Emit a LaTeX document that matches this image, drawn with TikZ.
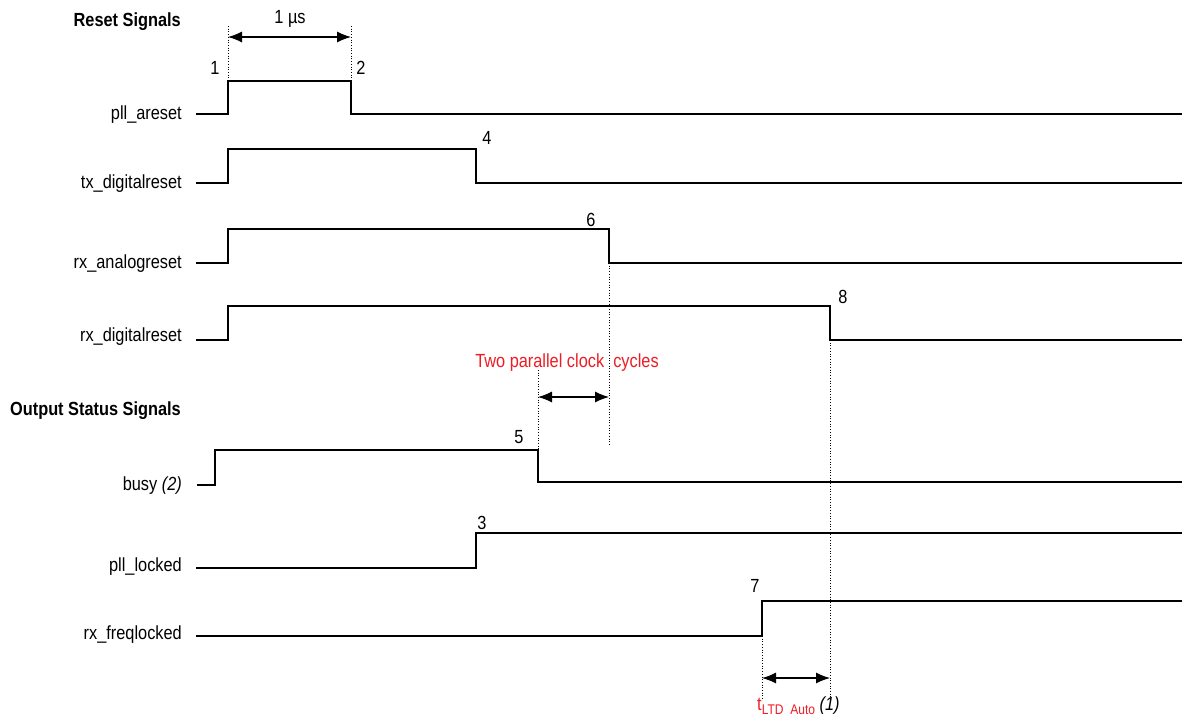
\documentclass[tikz,border=0pt]{standalone}
\usepackage{fontspec}
\setmainfont{Liberation Sans}[FakeStretch=0.86]
\usetikzlibrary{arrows.meta}
\definecolor{lblred}{RGB}{237,28,36}
\begin{document}
\begin{tikzpicture}[x=1pt,y=-1pt,
  wave/.style={line width=1.2pt, line join=miter},
  guide/.style={dotted, line width=0.7pt},
  dimarrow/.style={{Latex[length=14pt,width=11pt]}-{Latex[length=14pt,width=11pt]}, line width=1.1pt},
  lab/.style={anchor=east, font=\fontsize{19}{22}\selectfont, inner sep=0pt},
  num/.style={font=\fontsize{19}{22}\selectfont, inner sep=0pt},
  head/.style={anchor=east, font=\bfseries\fontsize{19}{22}\selectfont, inner sep=0pt},
  redtxt/.style={text=lblred, font=\fontsize{19}{22}\selectfont, inner sep=0pt}]
\useasboundingbox (0,0) rectangle (1182,721);

% headings
\node[head] (hreset) at (181,22) {Reset Signals};
\node[head] (hout) at (181,411) {Output Status Signals};

% signal labels
\node[lab] (lpll) at (182,115) {pll\_areset};
\node[lab] (ltx) at (182,184) {tx\_digitalreset};
\node[lab] (lrxa) at (182,264) {rx\_analogreset};
\node[lab] (lrxd) at (182,337) {rx\_digitalreset};
\node[lab] (lbusy) at (182,486) {busy \textit{(2)}};
\node[lab] (llock) at (182,567) {pll\_locked};
\node[lab] (lfreq) at (182,635) {rx\_freqlocked};

% waveforms
\draw[wave] (196,114) -- (228,114) -- (228,81) -- (351,81) -- (351,114) -- (1182,114);
\draw[wave] (196,183) -- (228,183) -- (228,149) -- (476,149) -- (476,183) -- (1182,183);
\draw[wave] (196,263) -- (228,263) -- (228,229) -- (609,229) -- (609,263) -- (1182,263);
\draw[wave] (196,340) -- (228,340) -- (228,306) -- (830,306) -- (830,340) -- (1182,340);
\draw[wave] (197,485) -- (215,485) -- (215,450) -- (538,450) -- (538,482) -- (1182,482);
\draw[wave] (196,568) -- (476,568) -- (476,533) -- (1182,533);
\draw[wave] (196,636) -- (762,636) -- (762,601) -- (1182,601);

% event numbers
\node[num] (n1) at (215,68) {1};
\node[num] (n2) at (361,68) {2};
\node[num] (n4) at (487,138) {4};
\node[num] (n6) at (591,220) {6};
\node[num] (n8) at (843,297) {8};
\node[num] (n5) at (519,437) {5};
\node[num] (n3) at (482,523) {3};
\node[num] (n7) at (755,586) {7};

% 1 us dimension
\coordinate (g1t) at (228,26);
\coordinate (g1b) at (228,81);
\coordinate (g2t) at (351,26);
\coordinate (g2b) at (351,81);
\draw[guide] (g1t) -- (g1b);
\draw[guide] (g2t) -- (g2b);
\coordinate (d1a) at (228,37);
\coordinate (d1b) at (351,37);
\draw[dimarrow] (d1a) -- (d1b);
\node[num] (us) at (290,19) {1 µs};

% two parallel clock cycles
\node[redtxt] (tpcc) at (567,363) {Two parallel clock\ \ cycles};
\coordinate (g3t) at (538,370);
\coordinate (g3b) at (538,450);
\coordinate (g4t) at (609,263);
\coordinate (g4b) at (609,445);
\draw[guide] (g3t) -- (g3b);
\draw[guide] (g4t) -- (g4b);
\coordinate (d2a) at (538,397);
\coordinate (d2b) at (609,397);
\draw[dimarrow] (d2a) -- (d2b);

% tLTD Auto
\coordinate (g5t) at (830,340);
\coordinate (g5b) at (830,699);
\coordinate (g6t) at (762,636);
\coordinate (g6b) at (762,699);
\draw[guide] (g5t) -- (g5b);
\draw[guide] (g6t) -- (g6b);
\coordinate (d3a) at (762,678);
\coordinate (d3b) at (830,678);
\draw[dimarrow] (d3a) -- (d3b);
\node[anchor=base west, inner sep=0pt, font=\fontsize{19}{22}\selectfont] (tltd) at (757,710)
  {\textcolor{lblred}{t\raisebox{-4pt}{\fontsize{14}{16}\selectfont LTD\ \ Auto}}\ \textit{(1)}};
\end{tikzpicture}
\end{document}
